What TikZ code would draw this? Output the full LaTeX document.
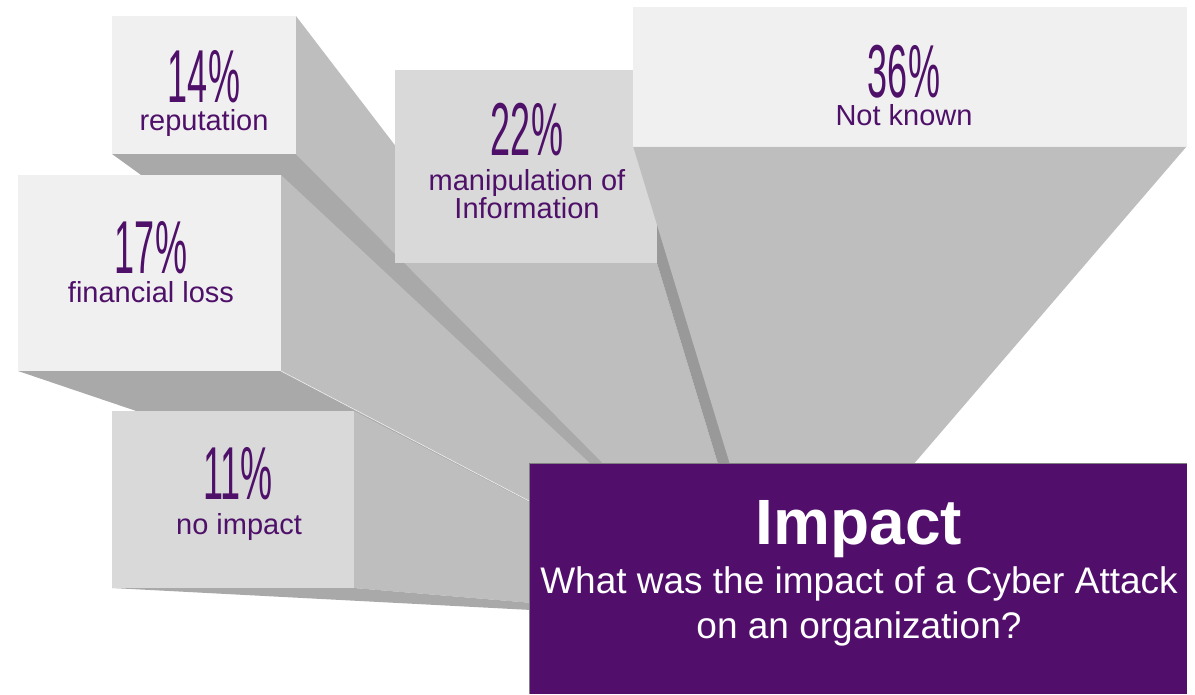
\documentclass[tikz,border=0pt]{standalone}
\usepackage{fontspec}
\setmainfont{Liberation Sans}
\usepackage{graphicx}
\usepackage{tikz}
\usetikzlibrary{positioning,calc}
\definecolor{facelight}{gray}{0.94}
\definecolor{facemid}{gray}{0.85}
\definecolor{sidegray}{gray}{0.745}
\definecolor{basegray}{gray}{0.663}
\definecolor{darkside}{gray}{0.6}
\definecolor{impactpurple}{RGB}{81,14,107}
\definecolor{labelpurple}{RGB}{78,16,104}
\tikzset{
  face/.style={anchor=north west,inner sep=0pt,outer sep=0pt},
  pct/.style={anchor=base,inner sep=0pt,text depth=0pt,text=labelpurple,font=\fontsize{75}{75}\selectfont},
  lbl/.style={anchor=base,inner sep=0pt,text=labelpurple,font=\fontsize{29}{29}\selectfont},
  side/.style={fill=sidegray},
  under/.style={fill=basegray},
}
\newcommand{\pcttext}[1]{\scalebox{0.48}[1]{#1\%}}

\begin{document}
\begin{tikzpicture}[x=1pt,y=-1pt]
  \useasboundingbox (0,0) rectangle (1195,694);
  \coordinate (vp) at (760,622);
  \coordinate (vp22) at (766,622);
  \coordinate (vp36) at (778,622);

  \path node[face,minimum width=184pt,minimum height=138pt] (rep) at (112,16) {};
  \path node[face,minimum width=263pt,minimum height=196pt] (fin) at (18,175) {};
  \path node[face,minimum width=242pt,minimum height=177pt] (none) at (112,411) {};
  \path node[face,minimum width=262pt,minimum height=193pt] (manip) at (395,70) {};
  \path node[face,minimum width=554pt,minimum height=139pt] (unk) at (633,7) {};
  \path node[face,minimum width=658pt,minimum height=231pt] (impact) at (529,463) {};

  \fill[side] (manip.south west) -- (vp22) -- (manip.south east) -- cycle;

  \fill[side] (rep.north east) -- (vp) -- (rep.south east) -- cycle;
  \fill[under] (rep.south west) -- (vp) -- (rep.south east) -- cycle;
  \fill[facelight] (rep.south west) rectangle (rep.north east);

  \fill[side] (fin.north east) -- (vp) -- (fin.south east) -- cycle;
  \fill[under] (fin.south west) -- (vp) -- (fin.south east) -- cycle;
  \fill[facelight] (fin.south west) rectangle (fin.north east);

  \fill[side] (none.north east) -- (vp) -- (none.south east) -- cycle;
  \fill[under] (none.south west) -- (vp) -- (none.south east) -- cycle;
  \fill[facemid] (none.south west) rectangle (none.north east);
  \draw[white!75!sidegray,line width=0.6pt] (fin.south east) -- (vp);

  \fill[darkside] (manip.north east) -- (vp22) -- (manip.south east) -- cycle;
  \fill[facemid] (manip.south west) rectangle (manip.north east);

  \fill[side] (unk.south west) -- (vp36) -- (unk.south east) -- cycle;
  \fill[facelight] (unk.south west) rectangle (unk.north east);
  \draw[white!70!sidegray,line width=1pt] (unk.south west) -- (unk.south east);

  \node[pct] (rep-pct) at (204,102) {\pcttext{14}};
  \node[lbl] (rep-txt) at (204,130) {reputation};
  \node[pct] (fin-pct) at (151,273) {\pcttext{17}};
  \node[lbl] (fin-txt) at (151,302) {financial loss};
  \node[pct] (none-pct) at (238,499) {\pcttext{11}};
  \node[lbl] (none-txt) at (239,534) {no impact};
  \node[pct] (manip-pct) at (527,155) {\pcttext{22}};
  \node[lbl] (manip-txt1) at (527,190) {manipulation of};
  \node[lbl] (manip-txt2) at (527,218) {Information};
  \node[pct] (unk-pct) at (904,97) {\pcttext{36}};
  \node[lbl] (unk-txt) at (904,125) {Not known};

  \fill[impactpurple] (impact.south west) rectangle (impact.north east);
  \draw[gray,line width=1pt] (impact.south west) -- (impact.north west) -- (impact.north east);
  \node[anchor=base,text=white,font=\fontsize{64}{64}\selectfont\bfseries] (impact-title) at (859,544) {Impact};
  \node[anchor=base,text=white,font=\fontsize{37}{37}\selectfont] (impact-q1) at (859,593) {What was the impact of a Cyber Attack};
  \node[anchor=base,text=white,font=\fontsize{37}{37}\selectfont] (impact-q2) at (859,638) {on an organization?};
\end{tikzpicture}
\end{document}
